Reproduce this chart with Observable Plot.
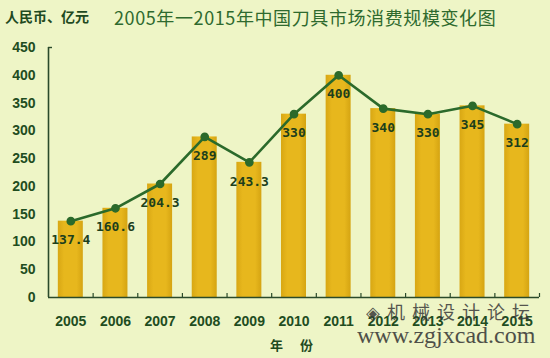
<!DOCTYPE html>
<html>
<head>
<meta charset="utf-8">
<script src="https://cdn.jsdelivr.net/npm/d3@7"></script>
<script src="https://cdn.jsdelivr.net/npm/@observablehq/plot@0.6"></script>
<style>
  html, body { margin: 0; padding: 0; }
  body { width: 550px; height: 358px; background: #eef5c6; position: relative; overflow: hidden;
         font-family: "Noto Sans CJK SC", "Liberation Sans", sans-serif; }
  #chart { position: absolute; left: 0; top: 0; }
  .abs { position: absolute; white-space: nowrap; }
  #unit { left: 5px; top: 6px; font-size: 14px; font-weight: bold; color: #1f4a1f; }
  #title { left: 114px; top: 4px; font-size: 18px; color: #2e6a2e; letter-spacing: 0.6px; }
  #xlab { left: 270px; top: 335px; font-size: 13px; font-weight: bold; color: #1f4a1f; word-spacing: 14px; }
  #wm1 { left: 366px; top: 298px; font-size: 18px; color: #3a3a3a; letter-spacing: 7px; opacity: 0.85; }
  #wm2 { left: 357px; top: 322px; font-size: 24px; color: #333; font-family: "Liberation Serif", serif; opacity: 0.85; }
</style>
</head>
<body>
<div id="chart"></div>
<div id="unit" class="abs">人民币、亿元</div>
<div id="title" class="abs">2005年一2015年中国刀具市场消费规模变化图</div>
<div id="xlab" class="abs">年 份</div>
<div id="wm1" class="abs">◈机械设计论坛</div>
<div id="wm2" class="abs">www.zgjxcad.com</div>
<script>
const years = [2005, 2006, 2007, 2008, 2009, 2010, 2011, 2012, 2013, 2014, 2015];
const values = [137.4, 160.6, 204.3, 289, 243.3, 330, 400, 340, 330, 345, 312];
const yTicks = [0, 50, 100, 150, 200, 250, 300, 350, 400, 450];
const boundaries = [2005.5, 2006.5, 2007.5, 2008.5, 2009.5, 2010.5, 2011.5, 2012.5, 2013.5, 2014.5, 2015.5];

const data = years.map((year, i) => ({year, value: values[i]}));
const half = 0.28;
const green = "#2b6a2b";

const plot = Plot.plot({
  width: 550,
  height: 358,
  marginLeft: 48,
  marginRight: 11,
  marginTop: 47,
  marginBottom: 61,
  style: {background: "transparent", color: "#1f4d1f", fontFamily: "'Liberation Sans', sans-serif"},
  x: {type: "linear", domain: [2004.5, 2015.5]},
  y: {domain: [0, 450]},
  marks: [
    Plot.rectY(data, {x1: d => d.year - half, x2: d => d.year + half, y: "value", fill: "url(#barGrad)"}),
    Plot.axisY({ticks: yTicks, tickSize: 0, tickPadding: 13, fontSize: 14, fontWeight: "bold", label: null}),
    Plot.axisX({ticks: years, tickFormat: d => String(d), tickSize: 0, tickPadding: 19, fontSize: 14, fontWeight: "bold", label: null}),
    Plot.ruleY([0], {stroke: "#2a4a2a", strokeWidth: 1.6}),
    Plot.ruleX([2004.5], {y1: 0, y2: 450, stroke: "#2a4a2a", strokeWidth: 1.6}),
    Plot.ruleY([450], {x1: 2004.5, x2: 2004.5, insetRight: -4, stroke: "#2a4a2a", strokeWidth: 1.4}),
    Plot.ruleX(boundaries, {x: d => d, y1: 0, y2: 0, insetTop: -4, stroke: "#2a4a2a", strokeWidth: 1.2}),
    Plot.line(data, {x: "year", y: "value", stroke: green, strokeWidth: 2.6}),
    Plot.dot(data, {x: "year", y: "value", r: 3.6, fill: green, stroke: green}),
    Plot.text(data, {x: "year", y: "value", text: d => String(d.value), dy: 19, fontSize: 13, fontWeight: "bold",
                     fontFamily: "'DejaVu Sans Mono', monospace", fill: "#1c3f1c"})
  ]
});

const defs = d3.create("svg:defs");
const grad = defs.append("linearGradient").attr("id", "barGrad").attr("x1", "0").attr("x2", "1").attr("y1", "0").attr("y2", "0");
grad.append("stop").attr("offset", "0%").attr("stop-color", "#d8a714");
grad.append("stop").attr("offset", "25%").attr("stop-color", "#e7b71d");
grad.append("stop").attr("offset", "75%").attr("stop-color", "#e7b71d");
grad.append("stop").attr("offset", "100%").attr("stop-color", "#d5a412");
plot.insertBefore(defs.node(), plot.firstChild);

document.getElementById("chart").appendChild(plot);
</script>
</body>
</html>
